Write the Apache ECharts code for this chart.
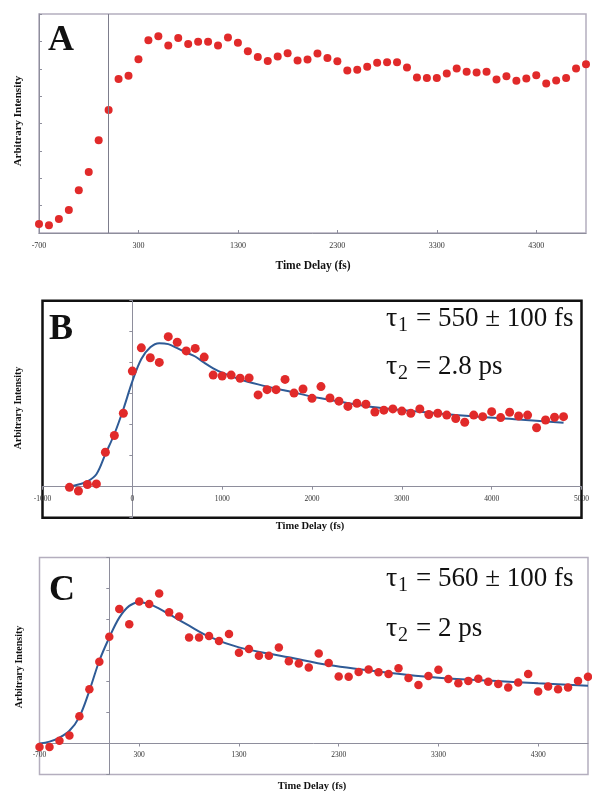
<!DOCTYPE html>
<html>
<head>
<meta charset="utf-8">
<script src="https://cdn.jsdelivr.net/npm/echarts@6/dist/echarts.min.js"></script>
<style>
  html, body { margin: 0; padding: 0; background: #fff; }
  #chart { width: 592px; height: 791px; }
</style>
</head>
<body>
<div id="chart"></div>
<script>
// time delays (fs), shared by all three panels
const delays = [
  -700, -600, -500, -400, -300, -200, -100, 0,
  100, 200, 300, 400, 500, 600, 700, 800, 900, 1000,
  1100, 1200, 1300, 1400, 1500, 1600, 1700, 1800, 1900, 2000,
  2100, 2200, 2300, 2400, 2500, 2600, 2700, 2800, 2900, 3000,
  3100, 3200, 3300, 3400, 3500, 3600, 3700, 3800, 3900, 4000,
  4100, 4200, 4300, 4400, 4500, 4600, 4700, 4800
];

// panel A measured intensity
const intensityA = [
  0.33, 0.28, 0.51, 0.84, 1.56, 2.23, 3.39, 4.49,
  5.63, 5.74, 6.35, 7.04, 7.19, 6.85, 7.12, 6.90, 6.99, 6.99,
  6.85, 7.14, 6.95, 6.64, 6.43, 6.28, 6.45, 6.57, 6.30, 6.34,
  6.56, 6.39, 6.27, 5.94, 5.96, 6.07, 6.22, 6.24, 6.24, 6.05,
  5.68, 5.66, 5.66, 5.83, 6.01, 5.89, 5.86, 5.89, 5.61, 5.73,
  5.56, 5.64, 5.76, 5.46, 5.57, 5.66, 6.01, 6.16
];

// panel B measured intensity + fit
const intensityB = [
  -0.02, -0.14, 0.07, 0.09, 1.11, 1.65, 2.37, 3.73,
  4.48, 4.16, 4.01, 4.84, 4.66, 4.38, 4.46, 4.18, 3.60, 3.57,
  3.60, 3.50, 3.51, 2.96, 3.13, 3.13, 3.46, 3.02, 3.15, 2.85,
  3.23, 2.86, 2.76, 2.59, 2.69, 2.66, 2.41, 2.47, 2.51, 2.44,
  2.37, 2.51, 2.33, 2.37, 2.31, 2.20, 2.08, 2.31, 2.26, 2.42,
  2.23, 2.40, 2.28, 2.31, 1.90, 2.15, 2.24, 2.26
];
const fitTimesB = [-700, -600, -500, -400, -300, -200, -100, 0, 100, 200, 300, 400, 500, 600,
  700, 800, 900, 1000, 1200, 1400, 1700, 2100, 2650, 3200, 3750, 4300, 4800];
const fitB = [0, 0.07, 0.17, 0.40, 1.05, 1.70, 2.50, 3.40, 4.12, 4.50, 4.63, 4.60, 4.47, 4.33,
  4.20, 4.00, 3.82, 3.68, 3.46, 3.30, 3.10, 2.85, 2.58, 2.42, 2.28, 2.17, 2.06];

// panel C measured intensity + fit
const intensityC = [
  -0.11, -0.11, 0.09, 0.26, 0.88, 1.75, 2.64, 3.44,
  4.34, 3.85, 4.58, 4.50, 4.84, 4.23, 4.10, 3.42, 3.42, 3.47,
  3.31, 3.53, 2.93, 3.05, 2.83, 2.83, 3.10, 2.65, 2.58, 2.45,
  2.90, 2.60, 2.16, 2.15, 2.31, 2.39, 2.30, 2.24, 2.43, 2.11,
  1.89, 2.18, 2.38, 2.08, 1.94, 2.02, 2.09, 1.99, 1.92, 1.81,
  1.97, 2.24, 1.68, 1.84, 1.75, 1.81, 2.02, 2.15
];
const fitTimesC = [-700, -600, -500, -400, -300, -200, -100, 0, 100, 200, 300, 400, 500, 600,
  800, 1000, 1300, 1600, 1800, 2200, 2800, 3300, 3800, 4300, 4800];
const fitC = [0, 0.06, 0.19, 0.41, 0.86, 1.70, 2.67, 3.42, 4.06, 4.44, 4.56, 4.50, 4.35, 4.17,
  3.80, 3.45, 3.10, 2.90, 2.78, 2.53, 2.28, 2.12, 2.03, 1.94, 1.86];

const serif = '"Liberation Serif", "DejaVu Serif", serif';
const dotColor = '#e12a2a';
const fitColor = '#2f5b96';
const axisGray = '#8e8e9c';
const frameGray = '#b4aebe';

const zip = (xs, ys) => xs.map((x, i) => [x, ys[i]]);

const chart = echarts.init(document.getElementById('chart'), null, { renderer: 'canvas' });

// offset < 0 pulls the axis up into the grid (onto the y = 0 level)
function xAxisFor (gridIndex, min, max, offset, showMax, fontSize, margin, tickInside) {
  return {
    type: 'value',
    gridIndex: gridIndex,
    position: 'bottom',
    offset: offset,
    min: min,
    max: max,
    interval: 1000,
    axisLine: { onZero: false, lineStyle: { color: axisGray, width: 1 } },
    axisTick: { inside: tickInside, length: 3, lineStyle: { color: axisGray } },
    axisLabel: {
      fontFamily: serif, fontSize: fontSize, color: '#333', margin: margin,
      showMaxLabel: showMax, showMinLabel: true,
      formatter: (v) => String(v)
    },
    splitLine: { show: false }
  };
}

function yAxisFor (gridIndex, min, max, onZero, tickInside) {
  return {
    type: 'value',
    gridIndex: gridIndex,
    min: min,
    max: max,
    interval: 1,
    axisLine: { onZero: onZero, lineStyle: { color: axisGray, width: 1 } },
    axisTick: { inside: tickInside, length: 3, lineStyle: { color: axisGray } },
    axisLabel: { show: false },
    splitLine: { show: false }
  };
}

function scatter (idx, data, size) {
  return {
    type: 'scatter',
    xAxisIndex: idx,
    yAxisIndex: idx,
    symbolSize: size,
    itemStyle: { color: dotColor, opacity: 1 },
    data: data,
    z: 3
  };
}

function fitLine (idx, data) {
  return {
    type: 'line',
    xAxisIndex: idx,
    yAxisIndex: idx,
    smooth: 0.35,
    symbol: 'none',
    lineStyle: { color: fitColor, width: 2 },
    data: data,
    z: 2
  };
}

function text (x, y, str, size, weight) {
  return {
    type: 'text',
    x: x,
    y: y,
    style: {
      text: str,
      font: (weight ? weight + ' ' : '') + size + 'px ' + serif,
      fill: '#111',
      align: 'left',
      verticalAlign: 'middle'
    },
    z: 10
  };
}

function tauLabel (y, idx, rest) {
  // τ, subscript, then the rest of the line
  return [
    text(386, y, 'τ', 28),
    text(398, y + 7, idx, 20),
    text(416, y, rest, 27)
  ];
}

function rotatedName (cx, cy, size) {
  return {
    type: 'text',
    x: cx,
    y: cy,
    rotation: Math.PI / 2,
    style: {
      text: 'Arbitrary Intensity',
      font: 'bold ' + size + 'px ' + serif,
      fill: '#111',
      align: 'center',
      verticalAlign: 'middle'
    },
    z: 10
  };
}

function bottomName (cx, cy, size) {
  return {
    type: 'text',
    x: cx,
    y: cy,
    style: {
      text: 'Time Delay (fs)',
      font: 'bold ' + size + 'px ' + serif,
      fill: '#111',
      align: 'center',
      verticalAlign: 'middle'
    },
    z: 10
  };
}

chart.setOption({
  animation: false,
  backgroundColor: '#fff',
  grid: [
    { left: 39, right: 6, top: 14, height: 219, show: true, borderColor: frameGray, borderWidth: 1.5 },
    { left: 42.5, right: 6.5, top: 300.7, height: 217, show: true, borderColor: '#111', borderWidth: 2.5 },
    { left: 39.5, right: 4, top: 557.5, height: 217, show: true, borderColor: frameGray, borderWidth: 1.5 }
  ],
  xAxis: [
    xAxisFor(0, -700, 4800, 0, false, 8, 9, true),
    xAxisFor(1, -1000, 5000, -31, true, 7.5, 8, false),
    xAxisFor(2, -700, 4800, -31, false, 7.5, 8, false)
  ],
  yAxis: [
    yAxisFor(0, 0, 8, false, true),
    yAxisFor(1, -1, 6, true, false),
    yAxisFor(2, -1, 6, true, false)
  ],
  series: [
    Object.assign(scatter(0, zip(delays, intensityA), 8), {
      markLine: {
        silent: true,
        symbol: 'none',
        label: { show: false },
        lineStyle: { color: '#7d7d8c', width: 1, type: 'solid' },
        data: [{ xAxis: 0 }]
      }
    }),
    fitLine(1, zip(fitTimesB, fitB)),
    scatter(1, zip(delays, intensityB), 9),
    fitLine(2, zip(fitTimesC, fitC)),
    scatter(2, zip(delays, intensityC), 8.5)
  ],
  graphic: [
    text(48, 41, 'A', 36, 'bold'),
    text(49, 330, 'B', 36, 'bold'),
    text(49, 591, 'C', 36, 'bold'),
    ...tauLabel(319, '1', '= 550 ± 100 fs'),
    ...tauLabel(367, '2', '= 2.8 ps'),
    ...tauLabel(579, '1', '= 560 ± 100 fs'),
    ...tauLabel(629, '2', '= 2 ps'),
    rotatedName(18, 121, 11),
    rotatedName(18, 408, 10),
    rotatedName(19, 667, 10),
    bottomName(313, 266, 11.5),
    bottomName(310, 526, 10.5),
    bottomName(312, 786, 10.5)
  ]
});
</script>
</body>
</html>
